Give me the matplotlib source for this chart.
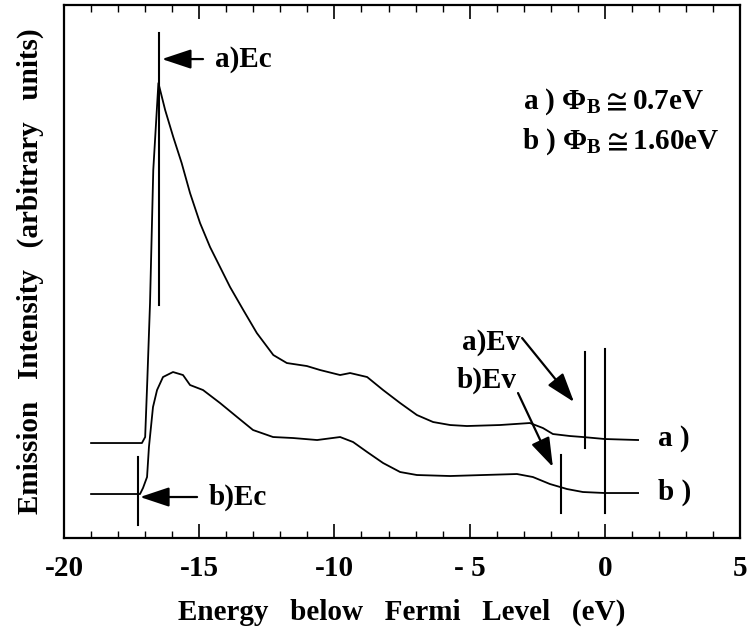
import matplotlib
matplotlib.use("Agg")
import matplotlib.pyplot as plt

# emission spectra (arbitrary intensity units)
energy_a = [-19.0, -17.12, -17.0, -16.92, -16.82, -16.70, -16.51, -16.26, -15.96, -15.65,
            -15.34, -14.97, -14.60, -14.23, -13.86, -13.37, -12.87, -12.26, -11.76, -11.02,
            -10.53, -9.79, -9.42, -8.79, -8.20, -7.57, -6.95, -6.35, -5.72, -5.10,
            -3.88, -2.77, -2.29, -1.92, -1.29, -0.81, 0.0, 1.23]
intensity_a = [0.95, 0.95, 1.01, 1.58, 2.35, 3.68, 4.55, 4.28, 4.01, 3.75,
               3.45, 3.15, 2.91, 2.71, 2.51, 2.28, 2.05, 1.83, 1.75, 1.72,
               1.68, 1.63, 1.65, 1.61, 1.48, 1.35, 1.23, 1.16, 1.13, 1.12,
               1.13, 1.15, 1.10, 1.04, 1.02, 1.01, 0.99, 0.98]

energy_b = [-19.0, -17.19, -17.08, -16.93, -16.86, -16.71, -16.56, -16.34, -15.97, -15.60,
            -15.34, -14.86, -14.23, -13.60, -13.01, -12.27, -11.53, -10.64, -9.79, -9.31,
            -8.79, -8.20, -7.57, -6.95, -5.72, -4.50, -3.25, -2.66, -2.03, -1.40,
            -0.81, 0.0, 1.23]
intensity_b = [0.44, 0.44, 0.50, 0.61, 0.91, 1.31, 1.48, 1.61, 1.66, 1.63,
               1.53, 1.48, 1.35, 1.21, 1.08, 1.01, 1.00, 0.98, 1.01, 0.96,
               0.86, 0.75, 0.66, 0.63, 0.62, 0.63, 0.64, 0.61, 0.54, 0.49,
               0.46, 0.45, 0.45]

# band edge markers: (energy, y bottom, y top)
ec_a = (-16.49, 2.33, 5.05)
ec_b = (-17.26, 0.13, 0.81)
ev_a = (-0.73, 0.90, 1.86)
ev_b = (-1.62, 0.25, 0.83)
fermi = (0.0, 0.25, 1.89)

xticks = [-20, -15, -10, -5, 0, 5]
xtick_labels = ["-20", "-15", "-10", "- 5", "0", "5"]

plt.rcParams["font.family"] = ["Liberation Serif", "DejaVu Serif"]
plt.rcParams["font.weight"] = "bold"
plt.rcParams["mathtext.fontset"] = "custom"
plt.rcParams["mathtext.rm"] = "Liberation Serif:bold"
plt.rcParams["mathtext.it"] = "Liberation Serif:bold"
plt.rcParams["mathtext.bf"] = "Liberation Serif:bold"

fig = plt.figure(figsize=(7.49, 6.34), dpi=100)
ax = fig.add_axes([0.0855, 0.1514, 0.9025, 0.8406])

ax.plot(energy_a, intensity_a, color="black", lw=1.3)
ax.plot(energy_b, intensity_b, color="black", lw=1.3)

for x, y0, y1 in [ec_a, ec_b, ev_a, ev_b, fermi]:
    ax.plot([x, x], [y0, y1], color="black", lw=1.5)

fs = 21
arrow = dict(arrowstyle="-|>,head_length=0.9,head_width=0.3", color="black", lw=1.6,
             shrinkA=0, shrinkB=0, mutation_scale=20)
ax.annotate("", xy=(-16.38, 4.79), xytext=(-14.86, 4.79), arrowprops=arrow)
ax.text(-14.4, 4.79, "a)Ec", fontsize=fs, fontweight="bold", va="center", ha="left")
ax.annotate("", xy=(-17.19, 0.41), xytext=(-15.08, 0.41), arrowprops=arrow)
ax.text(-14.67, 0.41, "b)Ec", fontsize=fs, fontweight="bold", va="center", ha="left")
ax.annotate("", xy=(-1.14, 1.36), xytext=(-3.06, 2.00), arrowprops=arrow)
ax.text(-3.14, 1.96, "a)Ev", fontsize=fs, fontweight="bold", va="center", ha="right")
ax.annotate("", xy=(-1.92, 0.71), xytext=(-3.21, 1.45), arrowprops=arrow)
ax.text(-3.25, 1.58, "b)Ev", fontsize=fs, fontweight="bold", va="center", ha="right")

ax.text(1.97, 1.00, "a )", fontsize=fs, fontweight="bold", va="center", ha="left")
ax.text(1.97, 0.46, "b )", fontsize=fs, fontweight="bold", va="center", ha="left")

ax.text(-3.03, 4.36, r"a ) $\Phi_{\mathrm{B}}\cong$0.7eV", fontsize=fs,
        fontweight="bold", va="center", ha="left")
ax.text(-3.06, 3.96, r"b ) $\Phi_{\mathrm{B}}\cong$1.60eV", fontsize=fs,
        fontweight="bold", va="center", ha="left")

ax.set_xlim(-20, 5)
ax.set_ylim(0, 5.33)
ax.set_xticks(xticks)
ax.set_xticklabels(xtick_labels, fontsize=fs, fontweight="bold")
ax.set_xticks(range(-20, 6), minor=True)
ax.tick_params(axis="x", which="major", direction="in", length=10, width=1.2,
               top=True, pad=12)
ax.tick_params(axis="x", which="minor", direction="in", length=5, width=1.0, top=True)
ax.set_yticks([])
for spine in ax.spines.values():
    spine.set_linewidth(1.6)

ax.set_xlabel("Energy   below   Fermi   Level   (eV)", fontsize=fs, fontweight="bold",
              labelpad=12)
ax.set_ylabel("Emission   Intensity   (arbitrary   units)", fontsize=fs, fontweight="bold")
ax.yaxis.set_label_coords(-0.03, 0.5)

fig.savefig("out.png", dpi=100)
